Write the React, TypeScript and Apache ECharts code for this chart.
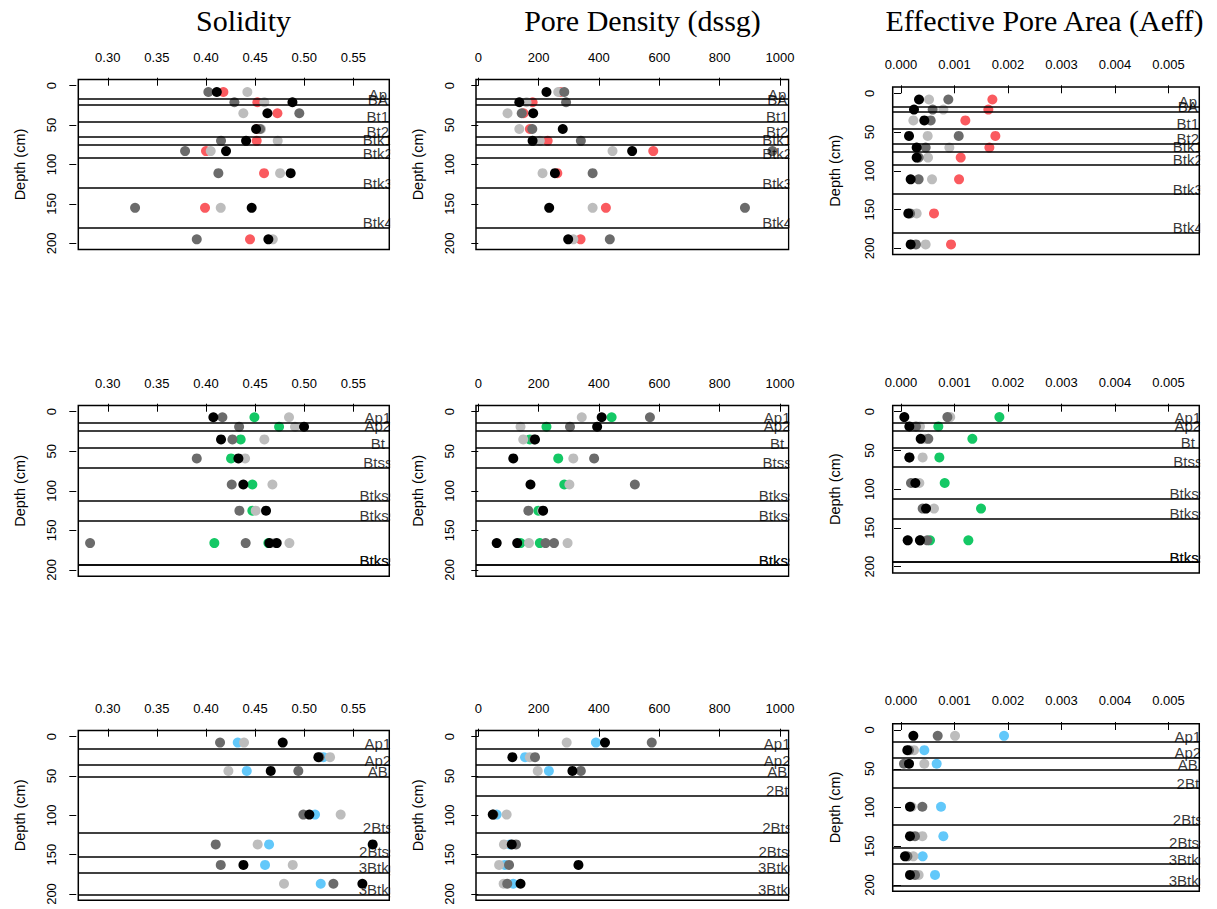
import React, { useEffect, useRef } from "react";
import * as echarts from "echarts";

// ---------- tick labels ----------
const SOLIDITY_TICKS = [0.3, 0.35, 0.4, 0.45, 0.5, 0.55];
const DENSITY_TICKS = [0, 200, 400, 600, 800, 1000];
const AEFF_TICKS = [0, 0.001, 0.002, 0.003, 0.004, 0.005];
const DEPTH_TICKS = [0, 50, 100, 150, 200];
const TITLES = ["Solidity", "Pore Density (dssg)", "Effective Pore Area (Aeff)"];

// ---------- row 1 (red) ----------
const depths1 = [8, 21, 35, 55, 70, 83, 111, 155, 195];
const horizons1 = ["Ap", "BA", "Bt1", "Bt2", "Btk1", "Btk2", "Btk3", "Btk4"];
const bottoms1 = [17, 24, 46, 65, 75, 92, 130, 180];
const sol1Black = [0.411, 0.488, 0.4625, 0.451, 0.4408, 0.4204, 0.4862, 0.4465, 0.4635];
const sol1Dark = [0.4024, 0.4289, 0.495, 0.455, 0.4153, 0.3787, 0.4126, 0.3278, 0.3906];
const sol1Light = [0.4421, 0.4594, 0.438, 0.456, 0.473, 0.4048, 0.4754, 0.415, 0.468];
const sol1Red = [0.4177, 0.4523, 0.4727, 0.452, 0.4516, 0.4, 0.4591, 0.399, 0.4448];
const den1Black = [226, 136, 182, 280, 180, 510, 254, 235, 298];
const den1Dark = [285, 291, 144, 179, 340, 975, 379, 884, 436];
const den1Light = [265, 160, 97, 136, 204, 445, 213, 379, 315];
const den1Red = [272, 180, 150, 171, 230, 580, 262, 423, 339];
const aef1Black = [0.000337, 0.000243, 0.000436, 0.00015, 0.000293, 0.000293, 0.000181, 0.000137, 0.000181];
const aef1Dark = [0.000885, 0.000592, 0.000555, 0.001079, 0.000461, 0.00033, 0.00033, 0.00017, 0.00028];
const aef1Light = [0.000524, 0.000792, 0.000231, 0.000499, 0.000904, 0.000505, 0.00058, 0.000293, 0.000461];
const aef1Red = [0.001708, 0.001633, 0.001203, 0.001764, 0.001652, 0.001116, 0.001085, 0.000617, 0.000935];

// ---------- row 2 (green) ----------
const depths2 = [7, 19, 35, 59, 92, 125, 166, 166];
const horizons2 = ["Ap1", "Ap2", "Bt", "Btss", "Btkss", "Btkss", "Btkss", "Btkss"];
const bottoms2 = [14, 24, 46, 71, 112, 138, 194, 194];
const sol2Black = [0.4075, 0.4998, 0.4153, 0.433, 0.438, 0.4611, 0.4645, 0.472];
const sol2Dark = [0.4167, 0.4337, 0.4269, 0.3906, 0.4262, 0.434, 0.282, 0.4404];
const sol2Light = [0.4845, 0.4906, 0.4594, 0.4398, 0.4676, 0.4506, 0.4849, 0.469];
const sol2Green = [0.4493, 0.4744, 0.4353, 0.4255, 0.4472, 0.4472, 0.4085, 0.4635];
const den2Black = [409, 394, 188, 116, 173, 215, 61, 129];
const den2Dark = [569, 304, 185, 384, 519, 166, 223, 251];
const den2Light = [343, 140, 149, 315, 302, 212, 168, 296];
const den2Green = [442, 226, 171, 265, 285, 199, 140, 204];
const aef2Black = [0.000062, 0.000156, 0.000368, 0.000156, 0.000268, 0.000468, 0.000125, 0.000355];
const aef2Dark = [0.000867, 0.00028, 0.000511, 0.00016, 0.000187, 0.000405, 0.00049, 0.00036];
const aef2Light = [0.00092, 0.000355, 0.00045, 0.000405, 0.000343, 0.000617, 0.00013, 0.00036];
const aef2Green = [0.001839, 0.000698, 0.001334, 0.000717, 0.000817, 0.001496, 0.000542, 0.001259];

// ---------- row 3 (blue) ----------
const depths3 = [7.5, 26, 43.5, 99, 137, 163, 187];
const horizons3a = ["Ap1", "Ap2", "AB", "2Bts", "2Btss", "3Btkg", "3Btkg"];
const bottoms3a = [15, 36, 51, 122, 152, 173, 201];
const horizons3b = ["Ap1", "Ap2", "AB", "2Bt", "2Bts", "2Btss", "3Btkg", "3Btkg"];
const bottoms3b = [15, 36, 51, 75, 122, 152, 173, 201];
const sol3Black = [0.4781, 0.5144, 0.4659, 0.5052, 0.5697, 0.4381, 0.5592];
const sol3Dark = [0.4143, 0.5155, 0.494, 0.4991, 0.4099, 0.415, 0.5297];
const sol3Light = [0.4387, 0.5263, 0.4228, 0.5371, 0.4526, 0.4883, 0.4794];
const sol3Blue = [0.4323, 0.5195, 0.4415, 0.511, 0.4642, 0.4601, 0.5168];
const den3Black = [420, 113, 312, 48, 111, 332, 140];
const den3Dark = [575, 188, 340, 50, 125, 102, 96];
const den3Light = [293, 171, 197, 94, 85, 69, 84];
const den3Blue = [390, 155, 234, 61, 105, 88, 116];
const aef3Black = [0.000231, 0.000118, 0.00015, 0.000168, 0.000168, 0.000075, 0.000168];
const aef3Dark = [0.000686, 0.00015, 0.000056, 0.000399, 0.000262, 0.00012, 0.000262];
const aef3Light = [0.00101, 0.000243, 0.000436, 0.0002, 0.000399, 0.000231, 0.00033];
const aef3Blue = [0.001926, 0.000436, 0.000667, 0.000748, 0.000792, 0.000405, 0.000636];

// ---------- styles / layout ----------
const C_BLACK = "#000000";
const C_DARK = "#6b6b6b";
const C_LIGHT = "#bdbdbd";
const C_RED = "#fa5a5f";
const C_GREEN = "#14c865";
const C_BLUE = "#62c8fa";
const SANS = '"Liberation Sans", Arial, Helvetica, sans-serif';
const SERIF = '"Liberation Serif", "Times New Roman", serif';

const COLS = [
  { left: 78.3, right: 389.3, min: 0.27, max: 0.5866, ticks: SOLIDITY_TICKS, fmt: (v: number) => v.toFixed(2), yMargin: 18, depthX: 20, titleX: 243.5 },
  { left: 476, right: 788.7, min: -7.6, max: 1029, ticks: DENSITY_TICKS, fmt: (v: number) => String(Math.round(v)), yMargin: 18, depthX: 418, titleX: 642.5 },
  { left: 892.7, right: 1199.3, min: -0.000155, max: 0.005576, ticks: AEFF_TICKS, fmt: (v: number) => v.toFixed(3), yMargin: 15, depthX: 835, titleX: 1044.5 },
];

const LAYOUT = [
  [{ top: 79.4, bottom: 249.6 }, { top: 79.4, bottom: 249.6 }, { top: 87.1, bottom: 254.5 }],
  [{ top: 405.4, bottom: 576.3 }, { top: 405.4, bottom: 576.3 }, { top: 405.5, bottom: 572.9 }],
  [{ top: 730.4, bottom: 900.3 }, { top: 730.4, bottom: 900.3 }, { top: 723.8, bottom: 891.2 }],
];

const ROWS = [
  {
    depths: depths1, accent: C_RED,
    panels: [
      { names: horizons1, bottoms: bottoms1, black: sol1Black, dark: sol1Dark, light: sol1Light, acc: sol1Red },
      { names: horizons1, bottoms: bottoms1, black: den1Black, dark: den1Dark, light: den1Light, acc: den1Red },
      { names: horizons1, bottoms: bottoms1, black: aef1Black, dark: aef1Dark, light: aef1Light, acc: aef1Red },
    ],
  },
  {
    depths: depths2, accent: C_GREEN,
    panels: [
      { names: horizons2, bottoms: bottoms2, black: sol2Black, dark: sol2Dark, light: sol2Light, acc: sol2Green },
      { names: horizons2, bottoms: bottoms2, black: den2Black, dark: den2Dark, light: den2Light, acc: den2Green },
      { names: horizons2, bottoms: bottoms2, black: aef2Black, dark: aef2Dark, light: aef2Light, acc: aef2Green },
    ],
  },
  {
    depths: depths3, accent: C_BLUE,
    panels: [
      { names: horizons3a, bottoms: bottoms3a, black: sol3Black, dark: sol3Dark, light: sol3Light, acc: sol3Blue },
      { names: horizons3b, bottoms: bottoms3b, black: den3Black, dark: den3Dark, light: den3Light, acc: den3Blue },
      { names: horizons3b, bottoms: bottoms3b, black: aef3Black, dark: aef3Dark, light: aef3Light, acc: aef3Blue },
    ],
  },
];

function buildOption() {
  const grid: any[] = [];
  const xAxis: any[] = [];
  const yAxis: any[] = [];
  const series: any[] = [];
  const graphic: any[] = [];

  ROWS.forEach((row, r) => {
    row.panels.forEach((p, c) => {
      const idx = r * 3 + c;
      const col = COLS[c];
      const lay = LAYOUT[r][c];
      const h = lay.bottom - lay.top;
      grid.push({
        left: col.left,
        top: lay.top,
        width: col.right - col.left,
        height: h,
        show: true,
        borderColor: "#000",
        borderWidth: 1.5,
        backgroundColor: "transparent",
        containLabel: false,
        outerBoundsMode: "none",
      });
      xAxis.push({
        gridIndex: idx,
        type: "value",
        position: "top",
        min: col.min,
        max: col.max,
        offset: 1.5,
        axisLine: { show: false },
        splitLine: { show: false },
        axisTick: { show: true, length: 8, customValues: col.ticks, lineStyle: { color: "#000", width: 1 } },
        axisLabel: {
          show: true,
          customValues: col.ticks,
          formatter: (v: number) => col.fmt(v),
          fontSize: 13,
          fontFamily: SANS,
          color: "#000",
          margin: c === 2 ? 15 : 14,
        },
      });
      yAxis.push({
        gridIndex: idx,
        type: "value",
        inverse: true,
        min: -8,
        max: 208,
        offset: 2,
        axisLine: { show: false },
        splitLine: { show: false },
        axisTick: { show: true, length: 7, customValues: DEPTH_TICKS, lineStyle: { color: "#000", width: 1 } },
        axisLabel: {
          show: true,
          customValues: DEPTH_TICKS,
          rotate: 90,
          fontSize: 13,
          fontFamily: SANS,
          color: "#000",
          margin: col.yMargin,
        },
      });

      // horizon boundaries + names
      series.push({
        type: "scatter",
        xAxisIndex: idx,
        yAxisIndex: idx,
        silent: true,
        clip: false,
        symbolSize: 1,
        itemStyle: { color: "rgba(0,0,0,0)" },
        data: p.names.map((n, i) => [col.max, p.bottoms[i], n]),
        label: {
          show: true,
          formatter: (q: any) => q.data[2],
          position: [-11, -4.5],
          align: "center",
          verticalAlign: "middle",
          fontSize: 15,
          fontFamily: SANS,
          color: "#000",
        },
        markLine: {
          silent: true,
          symbol: ["none", "none"],
          label: { show: false },
          lineStyle: { color: "#000", width: 1.5, type: "solid" },
          emphasis: { disabled: true },
          data: p.bottoms.map((b) => ({ yAxis: b })),
        },
      });

      const addPts = (vals: number[], color: string) =>
        series.push({
          type: "scatter",
          xAxisIndex: idx,
          yAxisIndex: idx,
          silent: true,
          symbol: "circle",
          symbolSize: 10,
          itemStyle: { color, opacity: 1 },
          data: vals.map((v, i) => [v, row.depths[i]]),
        });
      addPts(p.acc, row.accent);
      addPts(p.light, C_LIGHT);
      addPts(p.dark, C_DARK);
      addPts(p.black, C_BLACK);

      // white mask to clip horizon names at the plot's right edge
      graphic.push({
        type: "rect",
        z: 100,
        silent: true,
        shape: { x: col.right + 0.9, y: lay.top - 2, width: 16, height: h + 4 },
        style: { fill: "#fff" },
      });
      // y-axis title
      graphic.push({
        type: "text",
        z: 100,
        silent: true,
        x: col.depthX,
        y: lay.top + h / 2,
        rotation: Math.PI / 2,
        style: { text: "Depth (cm)", fontSize: 14.5, fontFamily: SANS, fill: "#000", align: "center", verticalAlign: "middle" },
      });
    });
  });

  COLS.forEach((col, c) => {
    graphic.push({
      type: "text",
      z: 100,
      silent: true,
      x: col.titleX,
      y: 20,
      style: { text: TITLES[c], fontSize: 30, fontFamily: SERIF, fill: "#000", align: "center", verticalAlign: "middle" },
    });
  });

  return {
    animation: false,
    backgroundColor: "#fff",
    grid,
    xAxis,
    yAxis,
    series,
    graphic,
  };
}

export default function App() {
  const ref = useRef<HTMLDivElement | null>(null);
  useEffect(() => {
    if (!ref.current) return;
    const chart = echarts.init(ref.current, undefined, { renderer: "svg" });
    chart.setOption(buildOption() as any);
    return () => chart.dispose();
  }, []);
  return (
    <div
      ref={ref}
      style={{ position: "absolute", left: 0, top: 0, width: 1217, height: 909, background: "#fff" }}
    />
  );
}
